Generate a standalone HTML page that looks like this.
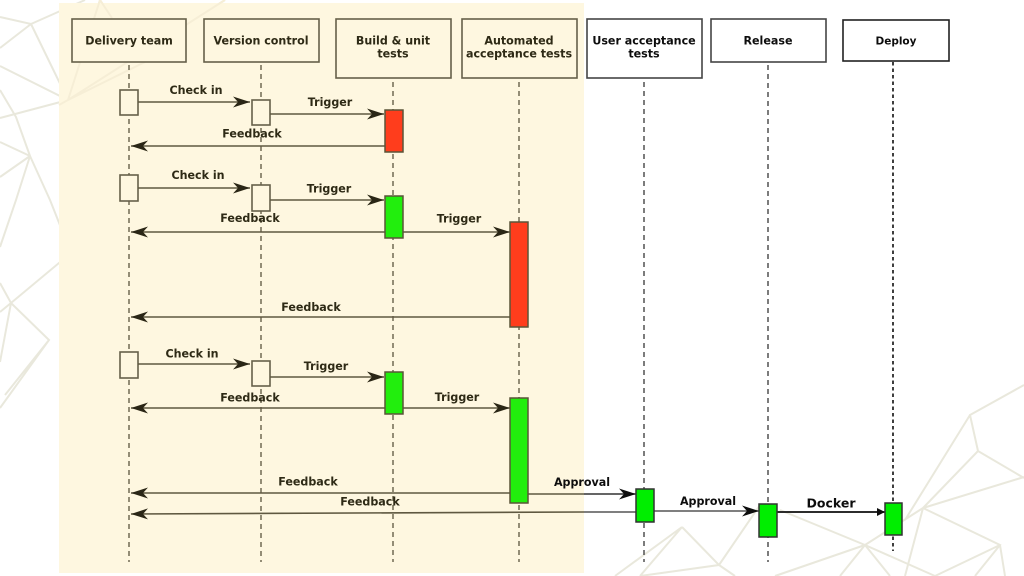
<!DOCTYPE html>
<html><head><meta charset="utf-8"><style>
html,body{margin:0;padding:0;background:#fff}
svg{display:block}
text{font-family:"DejaVu Sans","Liberation Sans",sans-serif;font-weight:700;font-size:11.1px;text-anchor:middle}
.t{fill:#2e2a14}.k{fill:#111}
</style></head><body>
<svg width="1024" height="576" viewBox="0 0 1024 576" xmlns="http://www.w3.org/2000/svg">
<defs>
<filter id="s" x="0" y="0" width="100%" height="100%"><feGaussianBlur stdDeviation="0.35"/></filter>
<marker id="a" markerUnits="userSpaceOnUse" markerWidth="18" markerHeight="14" refX="17" refY="6" orient="auto"><path d="M0 0.5L17 6L0 11.5L5 6Z" fill="#2a2612"/></marker>
<marker id="b" markerUnits="userSpaceOnUse" markerWidth="18" markerHeight="14" refX="17" refY="6" orient="auto"><path d="M0 0.5L17 6L0 11.5L5 6Z" fill="#111"/></marker>
<marker id="c" markerUnits="userSpaceOnUse" markerWidth="10" markerHeight="10" refX="8" refY="4" orient="auto"><path d="M0 0L8 4L0 8Z" fill="#111"/></marker>
</defs>
<g filter="url(#s)">
<g fill="none" stroke="#e9e8dc" stroke-width="2">
<path d="M0 17L31 24L85 0M31 24L0 48M31 24L68 100L0 66M68 100L0 118M68 100L100 0L112 18M68 100L225 0M68 100L145 62M0 90L16 117L30 156L0 142M30 156L0 177M30 156L50 200M30 156L16 200L0 247M50 200L71 253L11 303L0 283M11 303L0 312M11 303L49 340L0 408M11 303L0 362M49 340L5 395"/>
<path d="M923 508L1024 477M923 508L1000 545L975 576M1000 545L1005 576M923 508L905 576M923 508L978 451L1024 478M978 451L970 415L1024 385M970 415L905 520M865 545L775 576M865 545L923 508M780 510L865 545L935 576M865 545L840 576M865 545L890 576M682 527L615 576M682 527L719 565L640 576M719 565L760 505M719 565L735 576M682 527L640 576M935 576L1000 545"/>
</g>
<rect x="59" y="3" width="525" height="570" fill="#fef7e0"/>
<g fill="none" stroke="#f6eed6" stroke-width="2"><path d="M59 105L68 100L100 0L112 18M68 100L225 0M68 100L145 62"/></g>

<g fill="none" stroke="#66604a" stroke-width="1.4" stroke-dasharray="5 4">
<path d="M129 65V562M261 65V562M393 82V562M519 82V562"/>
</g>
<g fill="none" stroke="#444" stroke-width="1.4" stroke-dasharray="5 4">
<path d="M644 82V562M768 65V562"/>
</g>
<path d="M893 62V551" fill="none" stroke="#111" stroke-width="1.6" stroke-dasharray="3.5 3"/>

<g fill="#fef7e0" stroke="#66604a" stroke-width="1.6">
<rect x="72" y="19" width="114" height="43"/>
<rect x="204" y="19" width="115" height="43"/>
<rect x="336" y="19" width="115" height="59"/>
<rect x="462" y="19" width="115" height="59"/>
<rect x="120" y="90" width="18" height="25"/>
<rect x="252" y="100" width="18" height="25"/>
<rect x="120" y="175" width="18" height="26"/>
<rect x="252" y="185" width="18" height="26"/>
<rect x="120" y="352" width="18" height="26"/>
<rect x="252" y="361" width="18" height="25"/>
</g>
<g fill="#fff" stroke="#444" stroke-width="1.6">
<rect x="587" y="19" width="115" height="59"/>
<rect x="711" y="19" width="115" height="43"/>
</g>
<rect x="843" y="20" width="106" height="41" fill="#fff" stroke="#222" stroke-width="1.6"/>

<g stroke="#5e5840" stroke-width="1.6" fill="none">
<path d="M138 102H250" marker-end="url(#a)"/>
<path d="M270 114H384" marker-end="url(#a)"/>
<path d="M385 146H131" marker-end="url(#a)"/>
<path d="M138 188H250" marker-end="url(#a)"/>
<path d="M270 200H384" marker-end="url(#a)"/>
<path d="M385 232H131" marker-end="url(#a)"/>
<path d="M403 232H510" marker-end="url(#a)"/>
<path d="M510 317H131" marker-end="url(#a)"/>
<path d="M138 364H250" marker-end="url(#a)"/>
<path d="M270 377H384" marker-end="url(#a)"/>
<path d="M385 408H131" marker-end="url(#a)"/>
<path d="M403 408H510" marker-end="url(#a)"/>
<path d="M510 493H131" marker-end="url(#a)"/>
<path d="M584 512L131 514" marker-end="url(#a)"/>
<path d="M528 494H584"/>
</g>
<path d="M636 512L584 512" stroke="#555" stroke-width="1.6"/>
<path d="M584 494H636" stroke="#333" stroke-width="1.6" marker-end="url(#b)"/>
<path d="M654 511H759" stroke="#555" stroke-width="1.6" marker-end="url(#b)"/>
<path d="M777 512H885" stroke="#111" stroke-width="1.8" marker-end="url(#c)"/>

<g stroke="#5a5438" stroke-width="1.5">
<rect x="385" y="110" width="18" height="42" fill="#ff3c1a"/>
<rect x="385" y="196" width="18" height="42" fill="#22ee0a"/>
<rect x="510" y="222" width="18" height="105" fill="#ff3c1a"/>
<rect x="385" y="372" width="18" height="42" fill="#22ee0a"/>
<rect x="510" y="398" width="18" height="105" fill="#22ee0a"/>
</g>
<g stroke="#333" stroke-width="1.5" fill="#00ee00">
<rect x="636" y="489" width="18" height="33"/>
<rect x="759" y="504" width="18" height="33"/>
<rect x="885" y="503" width="17" height="32"/>
</g>

<g class="t">
<text x="129" y="44.5" class="t">Delivery team</text>
<text x="261" y="44.5" class="t">Version control</text>
<text x="393" y="44.5" class="t">Build &amp; unit</text>
<text x="393" y="57.5" class="t">tests</text>
<text x="519" y="44.5" class="t">Automated</text>
<text x="519" y="57.5" class="t">acceptance tests</text>
<text x="196" y="94" class="t">Check in</text>
<text x="330" y="106" class="t">Trigger</text>
<text x="252" y="137.5" class="t">Feedback</text>
<text x="198" y="179" class="t">Check in</text>
<text x="329" y="192.5" class="t">Trigger</text>
<text x="250" y="222" class="t">Feedback</text>
<text x="459" y="222.5" class="t">Trigger</text>
<text x="311" y="311" class="t">Feedback</text>
<text x="192" y="357.5" class="t">Check in</text>
<text x="326" y="370" class="t">Trigger</text>
<text x="250" y="401.5" class="t">Feedback</text>
<text x="457" y="401" class="t">Trigger</text>
<text x="308" y="485.5" class="t">Feedback</text>
<text x="370" y="505.5" class="t">Feedback</text>
</g>
<text x="582" y="486" class="k">Approval</text>
<text x="644" y="44.5" class="k">User acceptance</text>
<text x="644" y="57.5" class="k">tests</text>
<text x="768" y="44.5" class="k">Release</text>
<text x="896" y="44.5" class="k" style="font-size:10.5px">Deploy</text>
<text x="708" y="505" class="k">Approval</text>
<text x="831" y="507.5" class="k" style="font-size:12.5px">Docker</text>
</g>
</svg>
</body></html>
